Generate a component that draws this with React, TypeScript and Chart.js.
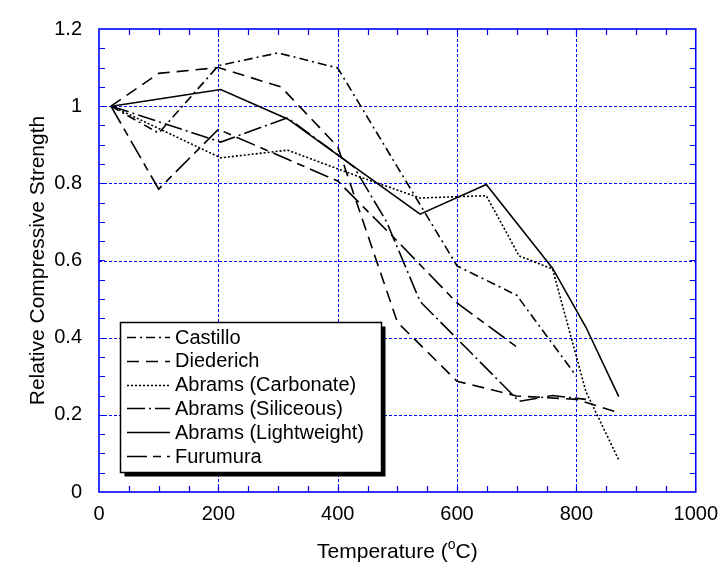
import React, { useEffect, useRef } from "react";
import { Chart, registerables } from "chart.js";

Chart.register(...registerables);

// ---- data (temperature in °C, relative compressive strength) ----
const castilloT = [20, 100, 200, 300, 400, 600, 700, 800];
const castilloV = [1.0, 0.93, 1.105, 1.138, 1.099, 0.586, 0.51, 0.3];

const diederichT = [20, 100, 200, 305, 400, 500, 600, 700, 800, 868];
const diederichV = [1.0, 1.085, 1.1, 1.05, 0.895, 0.44, 0.287, 0.249, 0.24, 0.207];

const carbonateT = [21, 204, 316, 427, 538, 649, 704, 760, 816, 871];
const carbonateV = [1.0, 0.866, 0.886, 0.822, 0.762, 0.768, 0.612, 0.578, 0.26, 0.083];

const siliceousT = [21, 204, 316, 427, 482, 538, 704, 760, 816];
const siliceousV = [1.0, 0.907, 0.97, 0.843, 0.7, 0.494, 0.235, 0.25, 0.24];

const lightweightT = [21, 204, 316, 538, 649, 760, 816, 871];
const lightweightV = [1.0, 1.043, 0.967, 0.72, 0.797, 0.58, 0.427, 0.247];

const furumuraT = [20, 100, 200, 400, 500, 600, 700];
const furumuraV = [1.0, 0.785, 0.94, 0.806, 0.65, 0.49, 0.376];

const seriesNames = [
  "Castillo",
  "Diederich",
  "Abrams (Carbonate)",
  "Abrams (Siliceous)",
  "Abrams (Lightweight)",
  "Furumura",
];

const xTickValues = [0, 200, 400, 600, 800, 1000];
const xTickLabels = ["0", "200", "400", "600", "800", "1000"];
const yTickValues = [0, 0.2, 0.4, 0.6, 0.8, 1.0, 1.2];
const yTickLabels = ["0", "0.2", "0.4", "0.6", "0.8", "1", "1.2"];

const xTitleMain = "Temperature (";
const xTitleSup = "o";
const xTitleEnd = "C)";
const yTitle = "Relative Compressive Strength";

const FONT = '"Liberation Sans", Arial, Helvetica, sans-serif';
const BLUE = "rgb(0,0,255)";

const dashes: number[][] = [
  [9, 4, 2, 4],
  [12, 7],
  [2, 2],
  [18, 4, 2, 4],
  [],
  [20, 6, 8, 6],
];

function pts(t: number[], v: number[]) {
  return t.map((x, i) => ({ x, y: v[i] }));
}

const framePlugin = {
  id: "framePlugin",
  beforeDatasetsDraw(chart: any) {
    const { ctx, chartArea: a, scales } = chart;
    const xs = scales.x;
    const ys = scales.y;
    ctx.save();
    ctx.strokeStyle = BLUE;
    ctx.lineWidth = 1;
    ctx.setLineDash([3, 2]);
    for (const v of xTickValues) {
      const px = Math.round(xs.getPixelForValue(v)) + 0.5;
      if (px <= a.left + 1 || px >= a.right - 1) continue;
      ctx.beginPath();
      ctx.moveTo(px, a.top);
      ctx.lineTo(px, a.bottom);
      ctx.stroke();
    }
    for (const v of yTickValues) {
      const py = Math.round(ys.getPixelForValue(v)) + 0.5;
      if (py <= a.top + 1 || py >= a.bottom - 1) continue;
      ctx.beginPath();
      ctx.moveTo(a.left, py);
      ctx.lineTo(a.right, py);
      ctx.stroke();
    }
    ctx.setLineDash([]);
    ctx.lineWidth = 1.2;
    for (let v = 50; v < 1000; v += 50) {
      const px = Math.round(xs.getPixelForValue(v)) + 0.5;
      ctx.beginPath();
      ctx.moveTo(px, a.bottom);
      ctx.lineTo(px, a.bottom - 6);
      ctx.moveTo(px, a.top);
      ctx.lineTo(px, a.top + 6);
      ctx.stroke();
    }
    for (let k = 1; k < 24; k++) {
      const v = k * 0.05;
      const py = Math.round(ys.getPixelForValue(v)) + 0.5;
      ctx.beginPath();
      ctx.moveTo(a.left, py);
      ctx.lineTo(a.left + 6, py);
      ctx.moveTo(a.right, py);
      ctx.lineTo(a.right - 6, py);
      ctx.stroke();
    }
    ctx.lineWidth = 1.6;
    ctx.strokeRect(a.left, a.top, a.right - a.left, a.bottom - a.top);
    ctx.restore();
  },
  afterDraw(chart: any) {
    const { ctx, chartArea: a } = chart;
    ctx.save();
    ctx.fillStyle = "#000";
    ctx.textBaseline = "alphabetic";
    ctx.font = `21px ${FONT}`;
    const w1 = ctx.measureText(xTitleMain).width;
    const w3 = ctx.measureText(xTitleEnd).width;
    ctx.font = `14px ${FONT}`;
    const w2 = ctx.measureText(xTitleSup).width;
    const total = w1 + w2 + w3;
    const cx = (a.left + a.right) / 2;
    const x0 = cx - total / 2;
    const base = 558;
    ctx.font = `21px ${FONT}`;
    ctx.textAlign = "left";
    ctx.fillText(xTitleMain, x0, base);
    ctx.font = `14px ${FONT}`;
    ctx.fillText(xTitleSup, x0 + w1, base - 9);
    ctx.font = `21px ${FONT}`;
    ctx.fillText(xTitleEnd, x0 + w1 + w2, base);

    ctx.save();
    ctx.translate(38, (a.top + a.bottom) / 2);
    ctx.rotate(-Math.PI / 2);
    ctx.textAlign = "center";
    ctx.textBaseline = "middle";
    ctx.font = `21px ${FONT}`;
    ctx.fillText(yTitle, 0, 0);
    ctx.restore();

    const lx = 120.5, ly = 322.5, lw = 261, lh = 150;
    ctx.fillStyle = "#000";
    ctx.fillRect(lx + 4, ly + 4, lw, lh);
    ctx.fillStyle = "#fff";
    ctx.fillRect(lx, ly, lw, lh);
    ctx.strokeStyle = "#000";
    ctx.lineWidth = 1.5;
    ctx.strokeRect(lx, ly, lw, lh);
    ctx.font = `20px ${FONT}`;
    ctx.textAlign = "left";
    ctx.textBaseline = "middle";
    seriesNames.forEach((name, i) => {
      const y = 337 + i * 23.8;
      ctx.strokeStyle = "#000";
      ctx.lineWidth = 1.6;
      ctx.setLineDash(dashes[i]);
      ctx.beginPath();
      ctx.moveTo(127, Math.round(y) + 0.5);
      ctx.lineTo(170, Math.round(y) + 0.5);
      ctx.stroke();
      ctx.setLineDash([]);
      ctx.fillStyle = "#000";
      ctx.fillText(name, 175, y + 1);
    });
    ctx.restore();
  },
};

export default function App() {
  const ref = useRef<HTMLCanvasElement | null>(null);
  useEffect(() => {
    if (!ref.current) return;
    const allT = [castilloT, diederichT, carbonateT, siliceousT, lightweightT, furumuraT];
    const allV = [castilloV, diederichV, carbonateV, siliceousV, lightweightV, furumuraV];
    const chart = new Chart(ref.current, {
      type: "line",
      data: {
        datasets: seriesNames.map((name, i) => ({
          label: name,
          data: pts(allT[i], allV[i]),
          borderColor: "#000",
          backgroundColor: "#000",
          borderWidth: 1.6,
          borderDash: dashes[i],
          pointRadius: 0,
          tension: 0,
          fill: false,
        })),
      },
      options: {
        animation: false,
        responsive: false,
        layout: { padding: { top: 17, right: 26, left: 0, bottom: 0 } },
        plugins: { legend: { display: false }, tooltip: { enabled: false } },
        scales: {
          x: {
            type: "linear",
            min: 0,
            max: 1000,
            afterBuildTicks: (s: any) => {
              s.ticks = xTickValues.map((v) => ({ value: v }));
            },
            afterFit: (s: any) => {
              s.height = 80;
            },
            ticks: {
              callback: (_v: any, i: number) => xTickLabels[i],
              font: { family: FONT, size: 20 },
              color: "#000",
              padding: 10,
              maxRotation: 0,
              autoSkip: false,
            },
            grid: { display: false, drawTicks: false },
            border: { display: false },
          },
          y: {
            type: "linear",
            min: 0,
            max: 1.2,
            afterBuildTicks: (s: any) => {
              s.ticks = yTickValues.map((v) => ({ value: v }));
            },
            afterFit: (s: any) => {
              s.width = 99;
            },
            ticks: {
              callback: (_v: any, i: number) => yTickLabels[i],
              font: { family: FONT, size: 20 },
              color: "#000",
              padding: 17,
              autoSkip: false,
            },
            grid: { display: false, drawTicks: false },
            border: { display: false },
          },
        },
      },
      plugins: [framePlugin],
    } as any);
    return () => chart.destroy();
  }, []);
  return (
    <div style={{ position: "absolute", left: 0, top: 0, width: 728, height: 572, background: "#fff" }}>
      <canvas ref={ref} width={728} height={572} style={{ display: "block" }} />
    </div>
  );
}
